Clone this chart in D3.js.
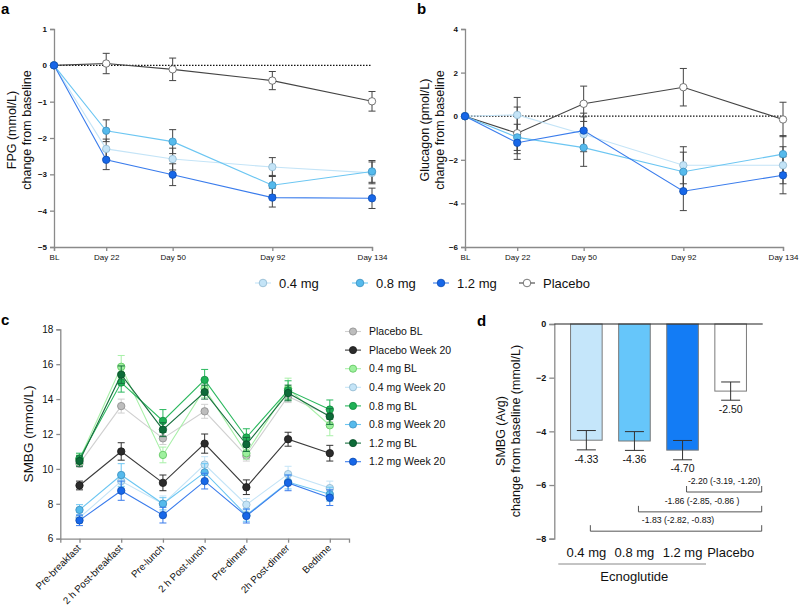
<!DOCTYPE html>
<html><head><meta charset="utf-8">
<script src="https://cdn.jsdelivr.net/npm/d3@7"></script>
<style>
body{margin:0;background:#fff;}
svg{font-family:"Liberation Sans",Arial,sans-serif;}
</style></head><body>
<svg id="chart" width="799" height="608"></svg>
<script>
// ---------- DATA ----------
const days = [0, 22, 50, 92, 134];
const dayLabels = ["BL", "Day 22", "Day 50", "Day 92", "Day 134"];
const groups = ["0.4 mg", "0.8 mg", "1.2 mg", "Placebo"];

// Panel a: FPG change from baseline (mmol/L)
const fpg04 = [0, -2.3, -2.58, -2.8, -2.96];
const fpg04Err = [0, 0.27, 0.3, 0.26, 0.3];
const fpg08 = [0, -1.8, -2.1, -3.3, -2.92];
const fpg08Err = [0, 0.3, 0.33, 0.27, 0.3];
const fpg12 = [0, -2.6, -3.01, -3.64, -3.66];
const fpg12Err = [0, 0.27, 0.3, 0.26, 0.28];
const fpgPl = [0, 0.05, -0.11, -0.42, -0.99];
const fpgPlErr = [0, 0.28, 0.31, 0.25, 0.27];
const fpgTicks = [1, 0, -1, -2, -3, -4, -5];

// Panel b: Glucagon change from baseline (pmol/L)
const gluc04 = [0, 0.06, -0.83, -2.25, -2.25];
const gluc04Err = [0, 0.8, 0.8, 0.85, 0.85];
const gluc08 = [0, -0.97, -1.44, -2.55, -1.74];
const gluc08Err = [0, 0.6, 0.86, 0.9, 0.85];
const gluc12 = [0, -1.22, -0.66, -3.44, -2.71];
const gluc12Err = [0, 0.5, 0.8, 0.89, 0.85];
const glucPl = [0, -0.78, 0.57, 1.33, -0.15];
const glucPlErr = [0, 1.2, 0.81, 0.86, 0.79];
const glucTicks = [4, 2, 0, -2, -4, -6];

// Panel c: SMBG 7-point profile (mmol/L)
const timepoints = ["Pre-breakfast", "2 h Post-breakfast", "Pre-lunch", "2 h Post-lunch", "Pre-dinner", "2h Post-dinner", "Bedtime"];
const smbgNames = ["Placebo BL", "Placebo Week 20", "0.4 mg BL", "0.4 mg Week 20", "0.8 mg BL", "0.8 mg Week 20", "1.2 mg BL", "1.2 mg Week 20"];
const plBL   = [10.3, 13.6, 11.75, 13.3, 10.75, 14.15, 13.05];
const plBLErr = [0.2, 0.4, 0.35, 0.4, 0.3, 0.35, 0.35];
const plW20  = [9.05, 11.0, 9.2, 11.45, 8.95, 11.7, 10.9];
const plW20Err = [0.25, 0.5, 0.45, 0.55, 0.42, 0.4, 0.45];
const d04BL  = [10.55, 15.85, 10.8, 14.6, 10.9, 14.6, 12.5];
const d04BLErr = [0.3, 0.65, 0.45, 0.5, 0.35, 0.6, 0.6];
const d04W20 = [7.2, 9.3, 8.0, 10.25, 7.95, 9.7, 8.9];
const d04W20Err = [0.3, 0.35, 0.45, 0.45, 0.35, 0.45, 0.4];
const d08BL  = [10.6, 14.95, 12.75, 15.1, 11.8, 14.5, 13.4];
const d08BLErr = [0.3, 0.55, 0.65, 0.6, 0.5, 0.55, 0.55];
const d08W20 = [7.65, 9.65, 8.0, 9.8, 7.35, 9.25, 8.55];
const d08W20Err = [0.3, 0.65, 0.35, 0.5, 0.35, 0.4, 0.4];
const d12BL  = [10.45, 15.4, 12.25, 14.4, 11.4, 14.35, 13.0];
const d12BLErr = [0.3, 0.5, 0.4, 0.4, 0.4, 0.45, 0.45];
const d12W20 = [7.05, 8.75, 7.35, 9.3, 7.3, 9.2, 8.35];
const d12W20Err = [0.3, 0.55, 0.45, 0.45, 0.4, 0.45, 0.45];
const smbgTicks = [6, 8, 10, 12, 14, 16, 18];

// Panel d: average SMBG change from baseline
const smbgAvg = [-4.33, -4.36, -4.70, -2.50];
const smbgAvgErr = [0.36, 0.35, 0.36, 0.34];
const avgLabels = ["-4.33", "-4.36", "-4.70", "-2.50"];
const avgTicks = [0, -2, -4, -6, -8];
const comparisons = [
  {from: "1.2 mg", text: "-2.20 (-3.19, -1.20)"},
  {from: "0.8 mg", text: "-1.86 (-2.85, -0.86 )"},
  {from: "0.4 mg", text: "-1.83 (-2.82, -0.83)"}
];

// ---------- STYLES ----------
const blue = {
  "0.4 mg": {fill: "#c4e4f7", stroke: "#8fb8cf", line: "#c4e4f7"},
  "0.8 mg": {fill: "#56baec", stroke: "#3a8fbf", line: "#6cc6f2"},
  "1.2 mg": {fill: "#1767e8", stroke: "#0d4bb0", line: "#3a7cec"},
  "Placebo": {fill: "#ffffff", stroke: "#555555", line: "#444444"}
};
const smbgStyle = [
  {fill: "#bdbdbd", stroke: "#8a8a8a", line: "#d0d0d0"},
  {fill: "#2b2b2b", stroke: "#1a1a1a", line: "#3a3a3a"},
  {fill: "#9ef09e", stroke: "#5cc45c", line: "#a8f0a8"},
  {fill: "#c4e4f7", stroke: "#8fb8cf", line: "#c4e4f7"},
  {fill: "#1fb156", stroke: "#128a3e", line: "#2bb85e"},
  {fill: "#56baec", stroke: "#3a8fbf", line: "#6cc6f2"},
  {fill: "#0d6b38", stroke: "#084d27", line: "#18703f"},
  {fill: "#1767e8", stroke: "#0d4bb0", line: "#3a7cec"}
];
const barFill = ["#c5e6fa", "#66c6fa", "#137cf5", "#ffffff"];
const axisColor = "#8a8a8a";

const svg = d3.select("#chart");

function styleAxis(g, opts) {
  g.select(".domain").attr("stroke", axisColor).attr("stroke-width", 1.3);
  g.selectAll(".tick line").attr("stroke", axisColor).attr("stroke-width", 1.3);
  g.selectAll(".tick text").attr("fill", "#111")
    .style("font-size", opts.size + "px").style("font-weight", opts.bold ? "bold" : "normal");
}

// ---------- PANELS a & b ----------
function timePanel(cfg) {
  const x = d3.scaleLinear().domain([0, 134]).range(cfg.xr);
  const y = d3.scaleLinear().domain(cfg.yd).range(cfg.yr);
  const g = svg.append("g");
  const gy = g.append("g").attr("transform", `translate(${cfg.xr[0]},0)`)
    .call(d3.axisLeft(y).tickValues(cfg.ticks).tickFormat(d3.format("d")).tickSize(4).tickPadding(3));
  styleAxis(gy, {size: 8, bold: true});
  const gx = g.append("g").attr("transform", `translate(0,${cfg.yr[0]})`)
    .call(d3.axisBottom(x).tickValues(days).tickFormat((d, i) => dayLabels[i]).tickSize(4).tickPadding(3));
  styleAxis(gx, {size: 8, bold: false});
  g.append("line").attr("x1", x(0)).attr("x2", x(134)).attr("y1", y(0)).attr("y2", y(0))
    .attr("stroke", "#111").attr("stroke-width", 1.3).attr("stroke-dasharray", "1.5,1.5");
  const line = d3.line().x((d, i) => x(days[i])).y(d => y(d));
  const order = ["Placebo", "0.4 mg", "0.8 mg", "1.2 mg"];
  order.forEach(k => {
    g.append("path").datum(cfg.series[k].v).attr("d", line).attr("fill", "none")
      .attr("stroke", blue[k].line).attr("stroke-width", 1.1);
  });
  order.forEach(k => {
    const s = cfg.series[k];
    s.v.forEach((v, i) => {
      if (!s.e[i]) return;
      const cx = x(days[i]), y1 = y(v + s.e[i]), y2 = y(v - s.e[i]);
      g.append("line").attr("x1", cx).attr("x2", cx).attr("y1", y1).attr("y2", y2).attr("stroke", "#444").attr("stroke-width", 1);
      [y1, y2].forEach(yy => g.append("line").attr("x1", cx - 3.5).attr("x2", cx + 3.5).attr("y1", yy).attr("y2", yy).attr("stroke", "#444").attr("stroke-width", 1));
    });
  });
  order.forEach(k => {
    g.selectAll(null).data(cfg.series[k].v).enter().append("circle")
      .attr("cx", (d, i) => x(days[i])).attr("cy", d => y(d)).attr("r", 3.7)
      .attr("fill", blue[k].fill).attr("stroke", blue[k].stroke).attr("stroke-width", 0.8);
  });
  const lab = g.append("text").attr("transform", `translate(${cfg.labX},${cfg.labY}) rotate(-90)`)
    .attr("text-anchor", "middle").style("font-size", "12.5px").attr("fill", "#111");
  lab.append("tspan").attr("x", 0).attr("dy", 0).text(cfg.label1);
  lab.append("tspan").attr("x", 0).attr("dy", 15).text(cfg.label2);
  svg.append("text").attr("x", cfg.letterX).attr("y", 14).text(cfg.letter)
    .style("font-size", "15px").style("font-weight", "bold");
}

timePanel({
  xr: [54, 372], yd: [-5, 1], yr: [247, 29], ticks: fpgTicks,
  series: {"0.4 mg": {v: fpg04, e: fpg04Err}, "0.8 mg": {v: fpg08, e: fpg08Err},
           "1.2 mg": {v: fpg12, e: fpg12Err}, "Placebo": {v: fpgPl, e: fpgPlErr}},
  label1: "FPG (mmol/L)", label2: "change from baseline", labX: 16, labY: 130, letter: "a", letterX: 1
});
timePanel({
  xr: [465, 783], yd: [-6, 4], yr: [247, 29], ticks: glucTicks,
  series: {"0.4 mg": {v: gluc04, e: gluc04Err}, "0.8 mg": {v: gluc08, e: gluc08Err},
           "1.2 mg": {v: gluc12, e: gluc12Err}, "Placebo": {v: glucPl, e: glucPlErr}},
  label1: "Glucagon (pmol/L)", label2: "change from baseline", labX: 429, labY: 130, letter: "b", letterX: 417
});

// top legend
const legX = [263, 360, 441, 527];
groups.forEach((k, i) => {
  const lg = svg.append("g").attr("transform", `translate(${legX[i]},283)`);
  lg.append("line").attr("x1", -8).attr("x2", 8).attr("stroke", blue[k].line).attr("stroke-width", 1.1);
  lg.append("circle").attr("r", 3.8).attr("fill", blue[k].fill).attr("stroke", blue[k].stroke).attr("stroke-width", 0.8);
  lg.append("text").attr("x", 16).attr("dy", "0.35em").text(k).style("font-size", "13px").attr("fill", "#111");
});

// ---------- PANEL c ----------
(function () {
  const x = d3.scalePoint().domain(timepoints).range([60.3, 349]).padding(0.46);
  const y = d3.scaleLinear().domain([6, 18]).range([538.7, 329.3]);
  const g = svg.append("g");
  const gy = g.append("g").attr("transform", "translate(60.3,0)")
    .call(d3.axisLeft(y).tickValues(smbgTicks).tickSize(4).tickPadding(3));
  styleAxis(gy, {size: 10, bold: false});
  const gx = g.append("g").attr("transform", "translate(0,538.7)")
    .call(d3.axisBottom(x).tickSize(4).tickPadding(3));
  styleAxis(gx, {size: 9.8, bold: false});
  gx.selectAll(".tick text").attr("text-anchor", "end").attr("x", 0).attr("y", 0)
    .attr("dy", "0.35em").attr("transform", "translate(-1,7.5) rotate(-45)");
  const series = [
    [plBL, plBLErr], [plW20, plW20Err], [d04BL, d04BLErr], [d04W20, d04W20Err],
    [d08BL, d08BLErr], [d08W20, d08W20Err], [d12BL, d12BLErr], [d12W20, d12W20Err]
  ];
  const line = d3.line().x((d, i) => x(timepoints[i])).y(d => y(d));
  series.forEach((s, si) => {
    const st = smbgStyle[si];
    const errC = si === 1 ? "#333" : st.line;
    s[0].forEach((v, i) => {
      const cx = x(timepoints[i]), y1 = y(v + s[1][i]), y2 = y(v - s[1][i]);
      g.append("line").attr("x1", cx).attr("x2", cx).attr("y1", y1).attr("y2", y2).attr("stroke", errC).attr("stroke-width", 1);
      [y1, y2].forEach(yy => g.append("line").attr("x1", cx - 3.5).attr("x2", cx + 3.5).attr("y1", yy).attr("y2", yy).attr("stroke", errC).attr("stroke-width", 1));
    });
    g.append("path").datum(s[0]).attr("d", line).attr("fill", "none").attr("stroke", st.line).attr("stroke-width", 1.1);
    g.selectAll(null).data(s[0]).enter().append("circle")
      .attr("cx", (d, i) => x(timepoints[i])).attr("cy", d => y(d)).attr("r", 3.7)
      .attr("fill", st.fill).attr("stroke", st.stroke).attr("stroke-width", 0.8);
  });
  g.append("text").attr("transform", "translate(33,434) rotate(-90)").attr("text-anchor", "middle")
    .style("font-size", "13.5px").attr("fill", "#111").text("SMBG (mmol/L)");
  smbgNames.forEach((n, i) => {
    const st = smbgStyle[i];
    const lg = g.append("g").attr("transform", `translate(353,${331.5 + i * 18.6})`);
    lg.append("line").attr("x1", -8).attr("x2", 8).attr("stroke", st.line).attr("stroke-width", 1.1);
    lg.append("circle").attr("r", 3.6).attr("fill", st.fill).attr("stroke", st.stroke).attr("stroke-width", 0.8);
    lg.append("text").attr("x", 16).attr("dy", "0.35em").text(n).style("font-size", "10.5px").attr("fill", "#111");
  });
  svg.append("text").attr("x", 1).attr("y", 325).text("c").style("font-size", "15px").style("font-weight", "bold");
})();

// ---------- PANEL d ----------
(function () {
  const x = d3.scaleBand().domain(groups).range([554.3, 762.7]).paddingInner(0.343).paddingOuter(0.338);
  const y = d3.scaleLinear().domain([-8, 0]).range([538.7, 324]);
  const g = svg.append("g");
  g.selectAll(null).data(smbgAvg).enter().append("rect")
    .attr("x", (d, i) => x(groups[i])).attr("width", x.bandwidth())
    .attr("y", y(0)).attr("height", d => y(d) - y(0))
    .attr("fill", (d, i) => barFill[i]).attr("stroke", "#7a7a7a").attr("stroke-width", 1);
  smbgAvg.forEach((v, i) => {
    const cx = x(groups[i]) + x.bandwidth() / 2, y1 = y(v + smbgAvgErr[i]), y2 = y(v - smbgAvgErr[i]);
    g.append("line").attr("x1", cx).attr("x2", cx).attr("y1", y1).attr("y2", y2).attr("stroke", "#333").attr("stroke-width", 1);
    [y1, y2].forEach(yy => g.append("line").attr("x1", cx - 9.5).attr("x2", cx + 9.5).attr("y1", yy).attr("y2", yy).attr("stroke", "#333").attr("stroke-width", 1));
    g.append("text").attr("x", cx).attr("y", y2 + 9).attr("dy", "0.35em").attr("text-anchor", "middle")
      .style("font-size", "10.5px").attr("fill", "#111").text(avgLabels[i]);
  });
  const gy = g.append("g").attr("transform", "translate(554.3,0)")
    .call(d3.axisLeft(y).tickValues(avgTicks).tickSize(5).tickPadding(3));
  styleAxis(gy, {size: 9, bold: true});
  g.append("line").attr("x1", 554.3).attr("x2", 762.7).attr("y1", y(0)).attr("y2", y(0)).attr("stroke", "#222").attr("stroke-width", 1.2);
  const bracketY = [-6.26, -7.0, -7.72];
  comparisons.forEach((c, i) => {
    const x1 = x(c.from) + x.bandwidth() / 2 + 4, x2 = 761.7, yy = y(bracketY[i]);
    g.append("path").attr("d", `M${x1},${yy - 6}V${yy}H${x2}V${yy - 6}`).attr("fill", "none")
      .attr("stroke", "#555").attr("stroke-width", 1);
    g.append("text").attr("x", (x1 + x2) / 2 + (i === 0 ? 0 : 2)).attr("y", yy - 8).attr("text-anchor", "middle")
      .style("font-size", "8.7px").attr("fill", "#111").text(c.text);
  });
  groups.forEach(k => {
    g.append("text").attr("x", x(k) + x.bandwidth() / 2).attr("y", 552.5).attr("dy", "0.35em")
      .attr("text-anchor", "middle").style("font-size", "13px").attr("fill", "#111").text(k);
  });
  g.append("line").attr("x1", 558.3).attr("x2", 706).attr("y1", 564).attr("y2", 564).attr("stroke", "#888").attr("stroke-width", 1);
  g.append("text").attr("x", 634.3).attr("y", 576).attr("dy", "0.35em").attr("text-anchor", "middle")
    .style("font-size", "13px").attr("fill", "#111").text("Ecnoglutide");
  const lab = g.append("text").attr("transform", "translate(505,431) rotate(-90)")
    .attr("text-anchor", "middle").style("font-size", "12.5px").attr("fill", "#111");
  lab.append("tspan").attr("x", 0).attr("dy", 0).text("SMBG (Avg)");
  lab.append("tspan").attr("x", 0).attr("dy", 15).text("change from baseline (mmol/L)");
  svg.append("text").attr("x", 477).attr("y", 326).text("d").style("font-size", "15px").style("font-weight", "bold");
})();
</script>
</body></html>
